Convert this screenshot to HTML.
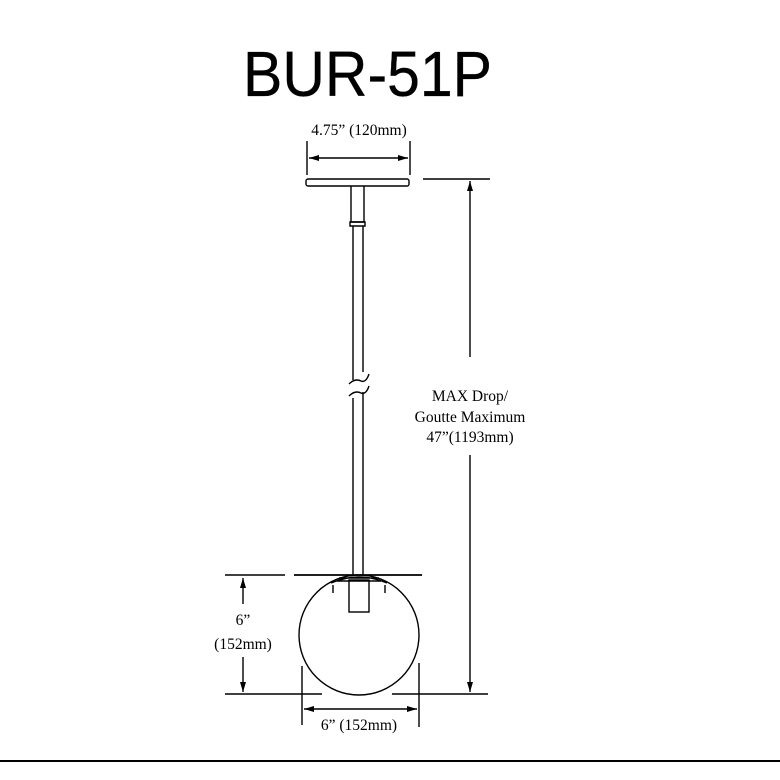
<!DOCTYPE html>
<html><head><meta charset="utf-8"><style>body{margin:0;background:#fff}svg{display:block}</style></head><body>
<svg width="780" height="780" viewBox="0 0 780 780" xmlns="http://www.w3.org/2000/svg">
<defs><marker id="a" markerWidth="10" markerHeight="6" refX="10" refY="3" orient="auto-start-reverse" markerUnits="userSpaceOnUse"><path d="M0,0 L10,3 L0,6 z" fill="#000"/></marker></defs>
<rect width="780" height="780" fill="#fff"/>
<text x="243" y="96" font-family="Liberation Sans, sans-serif" font-size="64" textLength="249" lengthAdjust="spacingAndGlyphs" stroke="#000" stroke-width="0.3">BUR-51P</text>
<g font-family="Liberation Serif, serif" font-size="15.5" fill="#000" text-anchor="middle">
<text x="359" y="135">4.75” (120mm)</text>
<text x="470" y="401">MAX Drop/</text>
<text x="470" y="422">Goutte Maximum</text>
<text x="470" y="442">47”(1193mm)</text>
<text x="243" y="625">6”</text>
<text x="243" y="649">(152mm)</text>
<text x="359" y="730">6” (152mm)</text>
</g>
<g stroke="#000" fill="none" stroke-width="1.4">
<line x1="307" y1="141" x2="307" y2="175"/><line x1="410" y1="141" x2="410" y2="175"/>
<line x1="309" y1="158" x2="408" y2="158" marker-start="url(#a)" marker-end="url(#a)"/>
<rect x="306" y="179" width="103" height="7" rx="2"/>
<path d="M351,186 V222 H364 V186"/><path d="M350,222 h15 v4 h-15z"/>
<path d="M353,226 V380 M363,226 V372"/>
<path d="M349,384 q6,-6 12,-3 q5,2 8,-7"/><path d="M349,396 q6,-6 12,-3 q5,2 8,-7"/>
<path d="M353,398 V575 M363,392 V575"/>
<line x1="423" y1="179" x2="490" y2="179"/>
<line x1="470" y1="181" x2="470" y2="357" marker-start="url(#a)"/>
<line x1="470" y1="455" x2="470" y2="692" marker-end="url(#a)"/>
<line x1="294" y1="575" x2="422" y2="575" stroke-width="1.8"/>
<circle cx="359" cy="635" r="60"/>
<path d="M331,583 q28,-12 56,0 M337,581 h44 M339,578 h40"/>
<path d="M333,585 v8 M385,585 v8"/>
<rect x="349" y="580" width="20" height="32"/>
<line x1="225" y1="575" x2="285" y2="575"/>
<line x1="243" y1="578" x2="243" y2="604" marker-start="url(#a)"/>
<line x1="243" y1="657" x2="243" y2="692" marker-end="url(#a)"/>
<line x1="225" y1="694" x2="322" y2="694"/><line x1="392" y1="694" x2="488" y2="694"/>
<line x1="302" y1="666" x2="302" y2="725"/><line x1="419" y1="663" x2="419" y2="727"/>
<line x1="304" y1="709" x2="417" y2="709" marker-start="url(#a)" marker-end="url(#a)"/>
</g>
<line x1="0" y1="761" x2="780" y2="761" stroke="#000" stroke-width="2"/>
</svg>
</body></html>
